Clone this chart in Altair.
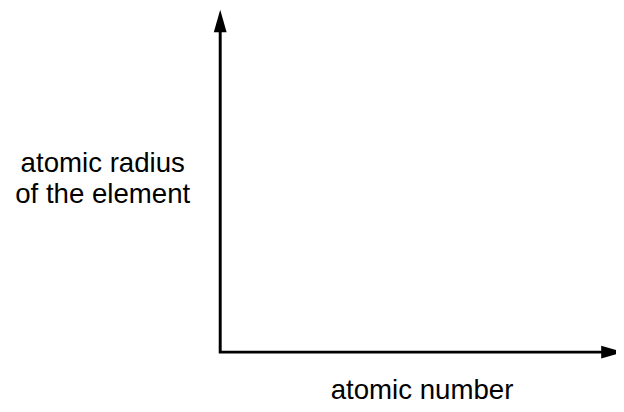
import altair as alt
import pandas as pd

# Axis path (conceptual units): y-axis top -> origin -> x-axis end
axis_x = [0.0, 0.0, 9.6]
axis_y = [9.5, 0.0, 0.0]
axis_order = [0, 1, 2]

# Arrow tips
tip_x = [0.0, 10.0]
tip_y = [10.0, 0.0]
tip_dir = ["up", "right"]

# Labels
label_text = ["atomic radius", "of the element", "atomic number"]
label_x = [-2.91, -2.91, 5.0]
label_y = [5.245, 4.35, -1.354]

xs = alt.Scale(domain=[0, 10], range=[215, 624], nice=False, zero=False)
ys = alt.Scale(domain=[0, 10], range=[346, -1], nice=False, zero=False)

axis_df = pd.DataFrame({"x": axis_x, "y": axis_y, "o": axis_order})
tips_df = pd.DataFrame({"x": tip_x, "y": tip_y, "d": tip_dir})
lab_df = pd.DataFrame({"x": label_x, "y": label_y, "t": label_text})

line = alt.Chart(axis_df).mark_line(
    color="black", strokeWidth=3, strokeJoin="miter", strokeCap="butt", clip=True
).encode(
    x=alt.X("x:Q", scale=xs, axis=None),
    y=alt.Y("y:Q", scale=ys, axis=None),
    order="o:Q",
)

up = alt.Chart(tips_df[tips_df.d == "up"]).mark_point(
    shape="M0,0L6.5,23L-6.5,23Z", size=4, filled=True, color="black",
    opacity=1, strokeWidth=0
).encode(x=alt.X("x:Q", scale=xs, axis=None), y=alt.Y("y:Q", scale=ys, axis=None))

right = alt.Chart(tips_df[tips_df.d == "right"]).mark_point(
    shape="M0,0L-23,-6.5L-23,6.5Z", size=4, filled=True, color="black",
    opacity=1, strokeWidth=0, clip=True
).encode(x=alt.X("x:Q", scale=xs, axis=None), y=alt.Y("y:Q", scale=ys, axis=None))

labels = alt.Chart(lab_df).mark_text(
    font="Liberation Sans", fontSize=28, color="black",
    align="center", baseline="alphabetic"
).encode(
    x=alt.X("x:Q", scale=xs, axis=None),
    y=alt.Y("y:Q", scale=ys, axis=None),
    text="t:N",
)

chart = alt.layer(line, up, right, labels).properties(
    width=616, height=404,
    autosize=alt.AutoSizeParams(type="none"),
    padding=0,
    background="white",
).configure_view(stroke=None)

chart.save("out.html", embed_options={"renderer": "svg", "actions": False})
